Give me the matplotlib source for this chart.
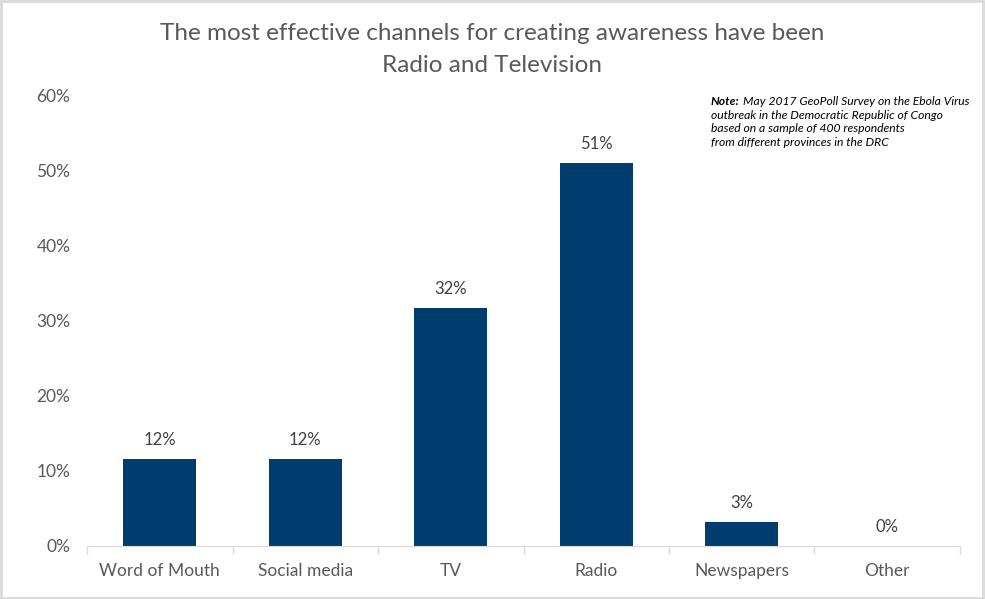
import matplotlib
matplotlib.use("Agg")
import matplotlib.pyplot as plt
from matplotlib.patches import Rectangle
from matplotlib.ticker import FixedLocator, PercentFormatter

categories = ["Word of Mouth", "Social media", "TV", "Radio", "Newspapers", "Other"]
values = [11.6, 11.6, 31.6, 51.0, 3.2, 0.0]
labels = ["12%", "12%", "32%", "51%", "3%", "0%"]
yticks = [0, 10, 20, 30, 40, 50, 60]

BAR = "#003D6E"
TXT = "#595959"
plt.rcParams['font.family'] = ['Lato', 'DejaVu Sans']

fig = plt.figure(figsize=(9.85, 5.99), dpi=100)
ax = fig.add_axes([87/985, 1-546/599, (960-87)/985, (546-95)/599])

x = list(range(len(categories)))
ax.bar(x, values, width=0.5, color=BAR, zorder=2)
for xi, v, l in zip(x, values, labels):
    ax.annotate(l, (xi, v), xytext=(0, 8), textcoords="offset points",
                ha="center", va="bottom", fontsize=12, color="#404040")

ax.set_xlim(-0.5, len(categories) - 0.5)
ax.set_ylim(0, 60)
ax.set_yticks(yticks)
ax.yaxis.set_major_formatter(PercentFormatter(decimals=0))
ax.set_xticks(x)
ax.set_xticklabels(categories)
ax.xaxis.set_minor_locator(FixedLocator([i + 0.5 for i in range(-1, len(categories))]))
ax.tick_params(axis="x", which="major", length=0, pad=12, labelsize=12.5, labelcolor=TXT)
ax.tick_params(axis="x", which="minor", length=6, color="#D9D9D9", width=1)
ax.tick_params(axis="y", length=0, pad=12, labelsize=12.5, labelcolor=TXT)
for s in ["top", "right", "left"]:
    ax.spines[s].set_visible(False)
ax.spines["bottom"].set_color("#D9D9D9")

fig.text(0.5, 1 - 33/599, "The most effective channels for creating awareness have been",
         ha="center", va="center", fontsize=17.5, color=TXT)
fig.text(0.5, 1 - 66/599, "Radio and Television",
         ha="center", va="center", fontsize=17.5, color=TXT)

nx, ny = 711/985, 1 - 96/599
note = fig.text(nx, ny, "Note:", ha="left", va="top", fontsize=8.7, color="black",
                style="italic", weight="bold")
fig.canvas.draw()
w = note.get_window_extent().width
fig.text(nx + (w + 3) / fig.bbox.width, ny, "May 2017 GeoPoll Survey on the Ebola Virus",
         ha="left", va="top", fontsize=8.7, color="black", style="italic")
fig.text(nx, ny - 14/599,
         "outbreak in the Democratic Republic of Congo\nbased on a sample of 400 respondents\nfrom different provinces in the DRC",
         ha="left", va="top", fontsize=8.7, color="black", style="italic", linespacing=1.25)

fig.patches.append(Rectangle((0.001, 0.001), 0.997, 0.997, transform=fig.transFigure,
                             fill=False, edgecolor="#D9D9D9", linewidth=2))

fig.savefig("out.png", dpi=100)
